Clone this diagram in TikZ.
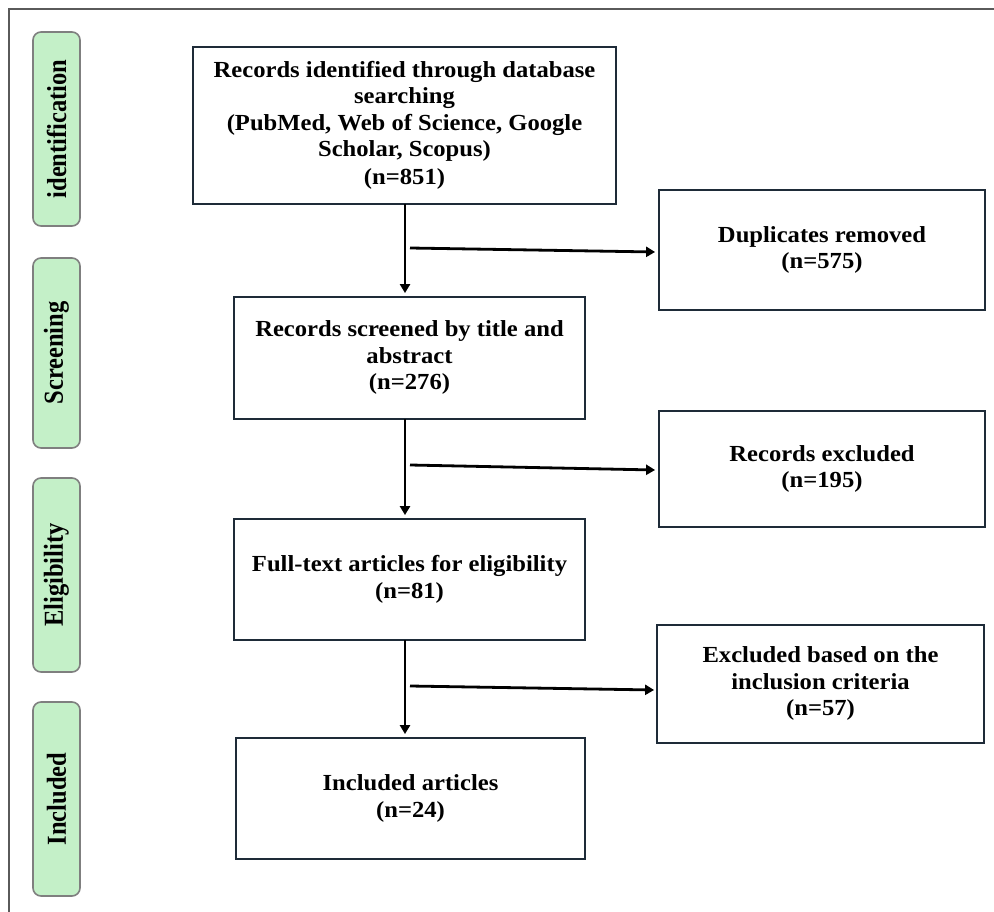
\documentclass[tikz,border=0pt]{standalone}
\usepackage{fontspec}
\setmainfont{Liberation Serif}
\usetikzlibrary{arrows.meta,calc}
\definecolor{boxline}{HTML}{1E2B38}
\definecolor{tabfill}{HTML}{C4F0C8}
\definecolor{tabline}{HTML}{7F7F7F}
\definecolor{frameline}{HTML}{5A5A5A}
\newcommand{\bxtext}[1]{\scalebox{1.07}[1]{\fontsize{23}{26.5}\selectfont\bfseries
  \begin{tabular}{@{}c@{}}#1\end{tabular}}}
\newcommand{\tabtext}[1]{\rotatebox{90}{\scalebox{1}[1.12]{\fontsize{24.5}{26}\selectfont\bfseries #1}}}
\begin{document}
\begin{tikzpicture}[x=1pt,y=-1pt,
  mainbox/.style={draw=boxline,line width=1.8pt,rectangle,inner sep=0pt,align=center},
  tabbox/.style={draw=tabline,fill=tabfill,line width=1.6pt,rounded corners=8pt,inner sep=0pt,
    minimum width=47pt,minimum height=194pt},
  arr/.style={-{Triangle[length=9pt,width=10pt]},line width=2.8pt,black}]
\useasboundingbox (0,0) rectangle (994,912);
\draw[frameline,line width=2pt] (9,913) -- (9,9) -- (995,9);
% tabs
\node[tabbox] (t1) at (56.5,129) {\tabtext{identification}};
\node[tabbox,minimum height=190pt] (t2) at (56.5,353) {\tabtext{Screening}};
\node[tabbox] (t3) at (56.5,575) {\tabtext{Eligibility}};
\node[tabbox] (t4) at (56.5,799) {\tabtext{Included}};
% main boxes
\node[mainbox,minimum width=423pt,minimum height=157pt] (b1) at (404.5,125.5)
  {\bxtext{Records identified through database\\searching\\ (PubMed, Web of Science, Google\\Scholar, Scopus)\\[1pt](n=851)}};
\node[mainbox,minimum width=351pt,minimum height=122pt] (b2) at (409.5,358)
  {\bxtext{Records screened by title and\\abstract\\(n=276)}};
\node[mainbox,minimum width=351pt,minimum height=121pt] (b3) at (409.5,579.5)
  {\bxtext{Full-text articles for eligibility\\(n=81)}};
\node[mainbox,minimum width=349pt,minimum height=121pt] (b4) at (410.5,798.5)
  {\bxtext{Included articles\\(n=24)}};
% side boxes
\node[mainbox,minimum width=326pt,minimum height=120pt] (s1) at (822,250)
  {\bxtext{Duplicates removed\\(n=575)}};
\node[mainbox,minimum width=326pt,minimum height=116pt] (s2) at (822,469)
  {\bxtext{Records excluded\\(n=195)}};
\node[mainbox,minimum width=327pt,minimum height=118pt] (s3) at (820.5,684)
  {\bxtext{Excluded based on the\\inclusion criteria\\(n=57)}};
% vertical arrows
\coordinate (v1) at (405,204);
\coordinate (v2) at (405,419);
\coordinate (v3) at (405,640);
\draw[arr] (v1) -- ($(v1 |- b2.north)+(0,-3)$);
\draw[arr] (v2) -- ($(v2 |- b3.north)+(0,-3)$);
\draw[arr] (v3) -- ($(v3 |- b4.north)+(0,-3)$);
% horizontal arrows
\coordinate (h1) at (410,248);
\coordinate (h2) at (410,465);
\coordinate (h3) at (410,686);
\coordinate (e1) at (0,252);
\coordinate (e2) at (0,470);
\coordinate (e3) at (0,690);
\draw[arr] (h1) -- ($(s1.west |- e1)+(-3,0)$);
\draw[arr] (h2) -- ($(s2.west |- e2)+(-3,0)$);
\draw[arr] (h3) -- ($(s3.west |- e3)+(-2,0)$);
\end{tikzpicture}
\end{document}
